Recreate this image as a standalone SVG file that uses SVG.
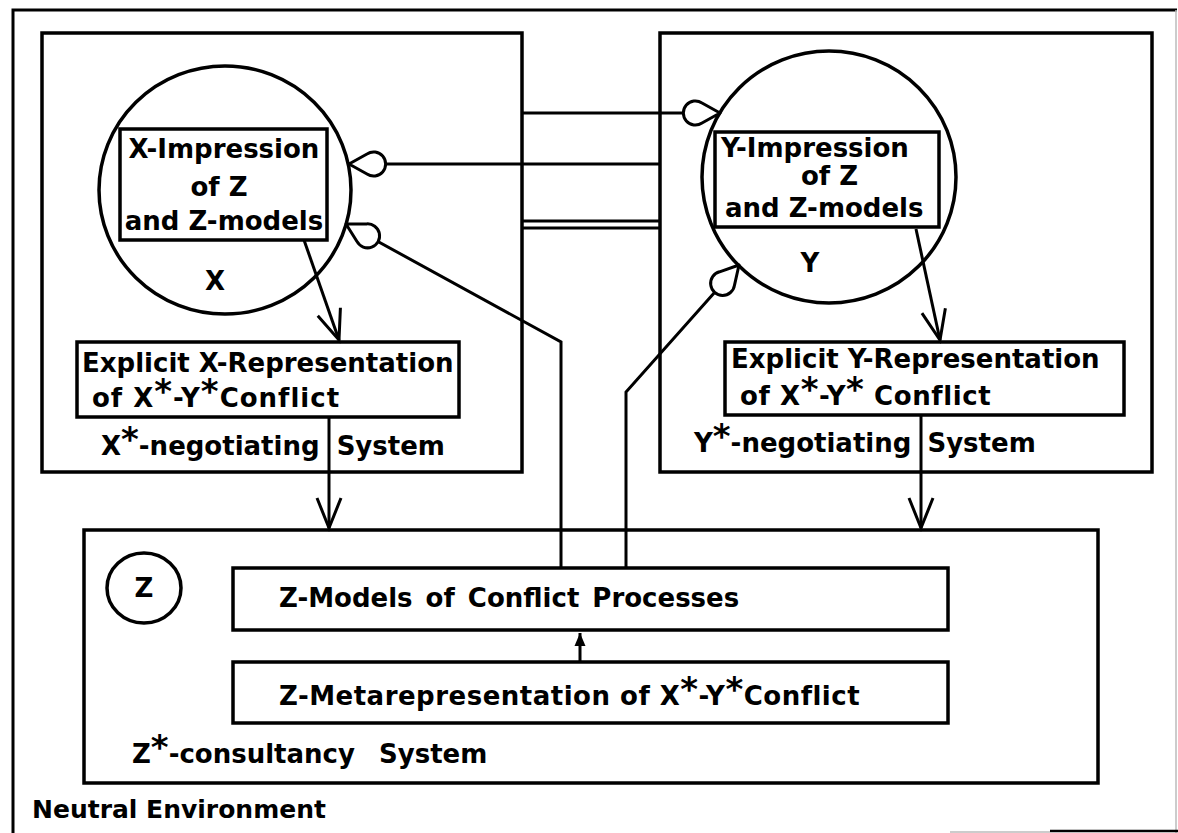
<svg xmlns="http://www.w3.org/2000/svg" width="1178" height="833" viewBox="0 0 1178 833">
<style>
.box{fill:none;stroke:#000;stroke-width:3.5}
.wbox{fill:#fff;stroke:#000;stroke-width:3.5}
.ln{fill:none;stroke:#000;stroke-width:3}
text{font-family:"DejaVu Sans","Liberation Sans",sans-serif;font-weight:bold;font-size:26px;fill:#000}
.st{font-size:34px}
.mid{text-anchor:middle}
</style>
<defs>
<marker id="vhead" markerUnits="userSpaceOnUse" viewBox="-34 -16 38 32" markerWidth="38" markerHeight="32" refX="0" refY="0" orient="auto" overflow="visible">
<path d="M-30,-12 L0,0 L-30,12" fill="none" stroke="#000" stroke-width="3" stroke-linejoin="miter"/>
</marker>
<marker id="drop" markerUnits="userSpaceOnUse" viewBox="-40 -16 44 32" markerWidth="44" markerHeight="32" refX="0" refY="0" orient="auto" overflow="visible">
<path d="M0,0 L-18,-10 A12,12 0 1 0 -18,10 Z" fill="#fff" stroke="#000" stroke-width="3" stroke-linejoin="round"/>
</marker>
<marker id="solid" markerUnits="userSpaceOnUse" viewBox="-16 -8 18 16" markerWidth="18" markerHeight="16" refX="0" refY="0" orient="auto" overflow="visible">
<path d="M-13,-5.5 L0,0 L-13,5.5 Z" fill="#000"/>
</marker>
</defs>

<g id="neutral-environment">
<path d="M13,833 V10 H1177" class="ln"/>
<path d="M1176,10 V833" fill="none" stroke="#bbb" stroke-width="1.5"/>
<path d="M950,832 H1050" fill="none" stroke="#bbb" stroke-width="1.5"/>
<path d="M1050,831 H1178" fill="none" stroke="#000" stroke-width="2.5"/>
<text x="32" y="818" style="font-size:25px">Neutral Environment</text>
</g>

<g id="x-system">
<rect x="42" y="33" width="480" height="439" class="box"/>
<text x="101" y="455" word-spacing="8">X<tspan class="st" dy="-4">*</tspan><tspan dy="4">-negotiating System</tspan></text>
</g>

<g id="x-circle">
<ellipse cx="225" cy="190" rx="126" ry="124" class="box"/>
<text x="215" y="290" class="mid">X</text>
</g>

<g id="x-impression">
<rect x="120" y="129" width="207" height="111" class="wbox"/>
<text x="224" y="158" class="mid">X-Impression</text>
<text x="219" y="196" class="mid">of Z</text>
<text x="224" y="230" class="mid">and Z-models</text>
</g>

<g id="x-explicit">
<rect x="77" y="342" width="382" height="75" class="wbox"/>
<text x="82" y="372">Explicit X-Representation</text>
<text x="92" y="407" letter-spacing="1">of X<tspan class="st" dy="-4">*</tspan><tspan dy="4">-Y</tspan><tspan class="st" dy="-4">*</tspan><tspan dy="4">Conflict</tspan></text>
</g>

<g id="y-system">
<rect x="660" y="33" width="492" height="439" class="box"/>
<text x="694" y="452" word-spacing="7">Y<tspan class="st" dy="-4">*</tspan><tspan dy="4">-negotiating System</tspan></text>
</g>

<g id="y-circle">
<ellipse cx="829" cy="177" rx="127" ry="126" class="box"/>
<text x="810" y="272" class="mid">Y</text>
</g>

<g id="y-impression">
<rect x="715" y="132" width="224" height="95" class="wbox"/>
<text x="721" y="157">Y-Impression</text>
<text x="801" y="185">of Z</text>
<text x="725" y="217">and Z-models</text>
</g>

<g id="y-explicit">
<rect x="725" y="342" width="399" height="73" class="wbox"/>
<text x="731" y="368">Explicit Y-Representation</text>
<text x="740" y="405" letter-spacing="0.6">of X<tspan class="st" dy="-4">*</tspan><tspan dy="4">-Y</tspan><tspan class="st" dy="-4">*</tspan><tspan dy="4"> Conflict</tspan></text>
</g>

<g id="z-system">
<rect x="84" y="530" width="1014" height="253" class="box"/>
<text x="132" y="763" word-spacing="15">Z<tspan class="st" dy="-4">*</tspan><tspan dy="4">-consultancy System</tspan></text>
</g>

<g id="z-circle">
<ellipse cx="144" cy="588" rx="37" ry="35" class="box"/>
<text x="144" y="597" class="mid">Z</text>
</g>

<g id="z-models">
<rect x="233" y="568" width="715" height="62" class="wbox"/>
<text x="279" y="607" word-spacing="4">Z-Models of Conflict Processes</text>
</g>

<g id="z-meta">
<rect x="233" y="662" width="715" height="61" class="wbox"/>
<text x="279" y="705" letter-spacing="0.5">Z-Metarepresentation of X<tspan class="st" dy="-4">*</tspan><tspan dy="4">-Y</tspan><tspan class="st" dy="-4">*</tspan><tspan dy="4">Conflict</tspan></text>
</g>

<g id="connectors">
<path d="M304,240 L339,340" class="ln" marker-end="url(#vhead)"/>
<path d="M329,417 V528" class="ln" marker-end="url(#vhead)"/>
<path d="M916,229 L940,340" class="ln" marker-end="url(#vhead)"/>
<path d="M921,415 V528" class="ln" marker-end="url(#vhead)"/>
<path d="M522,113 H720" class="ln" marker-end="url(#drop)"/>
<path d="M660,164 H349" class="ln" marker-end="url(#drop)"/>
<path d="M522,221 H660" class="ln"/>
<path d="M522,228 H660" class="ln"/>
<path d="M561,568 V342 L346,224" class="ln" marker-end="url(#drop)"/>
<path d="M626,568 V392 L739,265" class="ln" marker-end="url(#drop)"/>
<path d="M580,662 V633" class="ln" marker-end="url(#solid)"/>
</g>
</svg>
